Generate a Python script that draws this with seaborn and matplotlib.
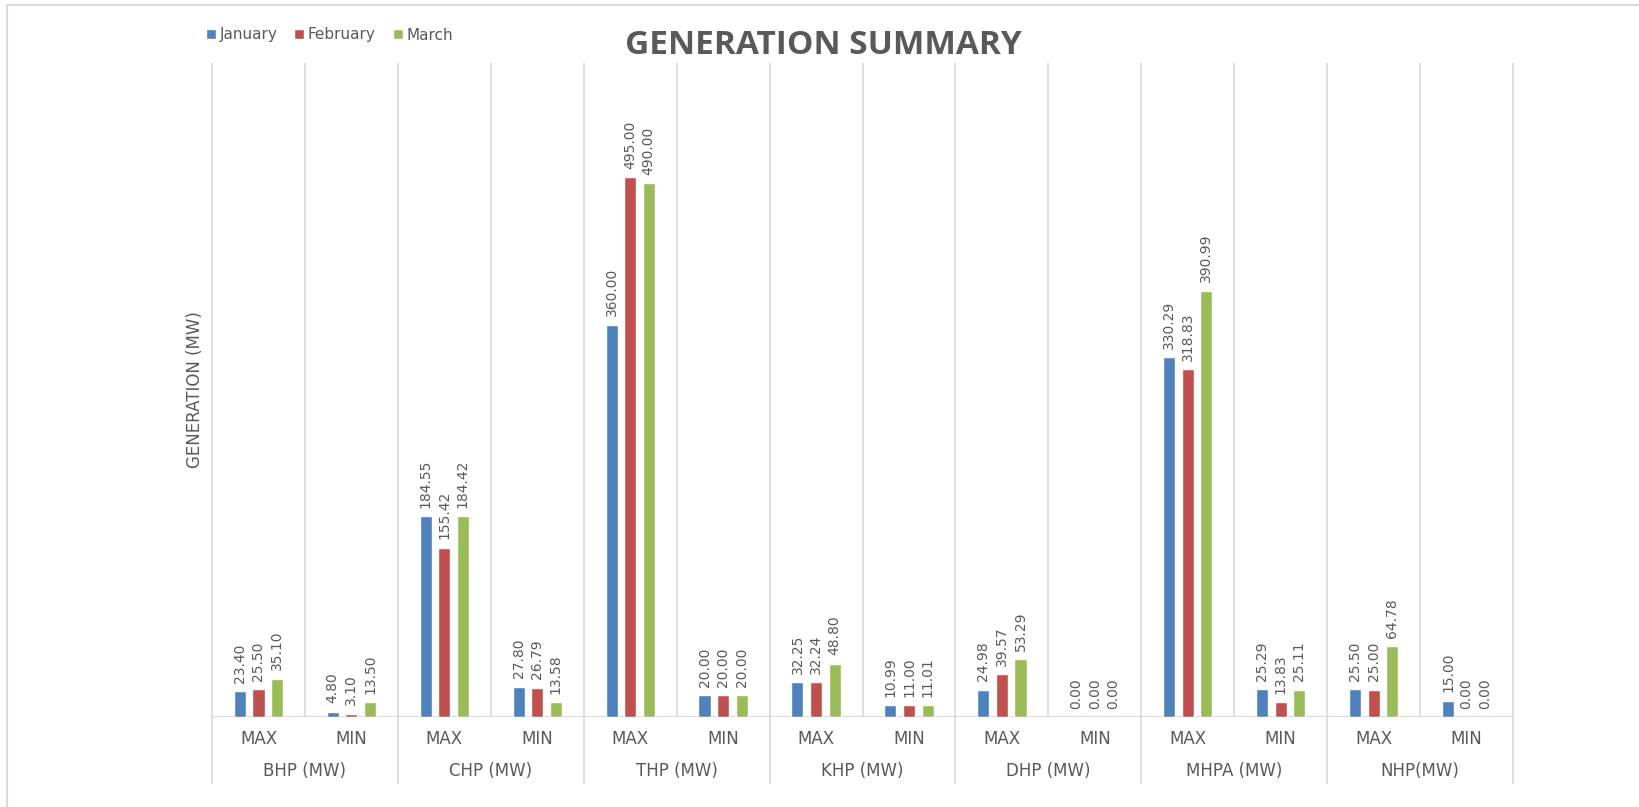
import pandas as pd
import matplotlib
matplotlib.use("Agg")
import matplotlib.pyplot as plt
import seaborn as sns
from matplotlib.patches import Rectangle

# datos
plantas = ["BHP (MW)", "CHP (MW)", "THP (MW)", "KHP (MW)", "DHP (MW)", "MHPA (MW)", "NHP(MW)"]
tipos = ["MAX", "MIN"]
meses = ["January", "February", "March"]

enero = [23.40, 4.80, 184.55, 27.80, 360.00, 20.00, 32.25, 10.99, 24.98, 0.00, 330.29, 25.29, 25.50, 15.00]
febrero = [25.50, 3.10, 155.42, 26.79, 495.00, 20.00, 32.24, 11.00, 39.57, 0.00, 318.83, 13.83, 25.00, 0.00]
marzo = [35.10, 13.50, 184.42, 13.58, 490.00, 20.00, 48.80, 11.01, 53.29, 0.00, 390.99, 25.11, 64.78, 0.00]

colores = ["#4F81BD", "#C0504D", "#9BBB59"]
gris = "#595959"
linea = "#D9D9D9"

# armamos el dataframe en formato long
categorias = [f"{p}|{t}" for p in plantas for t in tipos]
filas = []
for mes, valores in zip(meses, [enero, febrero, marzo]):
    for cat, v in zip(categorias, valores):
        filas.append({"cat": cat, "mes": mes, "valor": v})
df = pd.DataFrame(filas)

sns.set_style("white")
fig = plt.figure(figsize=(16.39, 8.07), dpi=100)
ax = fig.add_axes([212 / 1639, 90 / 807, 1301 / 1639, 654 / 807])

sns.barplot(data=df, x="cat", y="valor", hue="mes", order=categorias, hue_order=meses,
            palette=colores, width=0.6, gap=0.35, ax=ax, saturation=1, legend=True)

# etiquetas de valores
for cont in ax.containers:
    ax.bar_label(cont, fmt="%.2f", rotation=90, padding=6, color=gris, fontsize=10)

ax.set_xlim(-0.5, len(categorias) - 0.5)
ax.set_ylim(0, 600)
ax.set_xlabel("")
ax.set_ylabel("")
ax.set_xticks([])
ax.set_yticks([])
for s in ax.spines.values():
    s.set_visible(False)

# lineas verticales (separadores)
abajo = -(784 - 717) / 654
for k in range(len(categorias) + 1):
    x = k - 0.5
    ymin = abajo if k % 2 == 0 else 0
    ax.vlines(x, ymin, 1, transform=ax.get_xaxis_transform(), color=linea, lw=1.2, clip_on=False, zorder=0)
ax.axhline(0, color=linea, lw=1.5, zorder=0)

# eje de categorias en dos niveles
tr = ax.get_xaxis_transform()
for i, cat in enumerate(categorias):
    ax.text(i, -(739 - 717) / 654, cat.split("|")[1], transform=tr, ha="center", va="center",
            fontsize=12, color=gris)
for j, p in enumerate(plantas):
    ax.text(2 * j + 0.5, -(771 - 717) / 654, p, transform=tr, ha="center", va="center",
            fontsize=12, color=gris)

# leyenda
h, l = ax.get_legend_handles_labels()
ax.legend(h, l, ncol=3, loc="center left", bbox_to_anchor=(192 / 1639, 1 - 35 / 807),
          bbox_transform=fig.transFigure, frameon=False, fontsize=11, handlelength=0.65,
          handleheight=0.65, handletextpad=0.25, columnspacing=1.1, labelcolor=gris)

fig.text(823 / 1639, 1 - 46 / 807, "GENERATION SUMMARY", ha="center", va="center",
         fontsize=24, fontweight="bold", color=gris, family="Open Sans")
fig.text(195 / 1639, 1 - 390 / 807, "GENERATION (MW)", rotation=90, ha="center", va="center",
         fontsize=12, color=gris)

# borde del area del grafico
fig.patches.append(Rectangle((7 / 1639, -0.1), 1.2, 1 - 5 / 807 + 0.1, transform=fig.transFigure,
                             fill=False, edgecolor=linea, lw=1.5))

fig.savefig("out.png", dpi=100, facecolor="white")
